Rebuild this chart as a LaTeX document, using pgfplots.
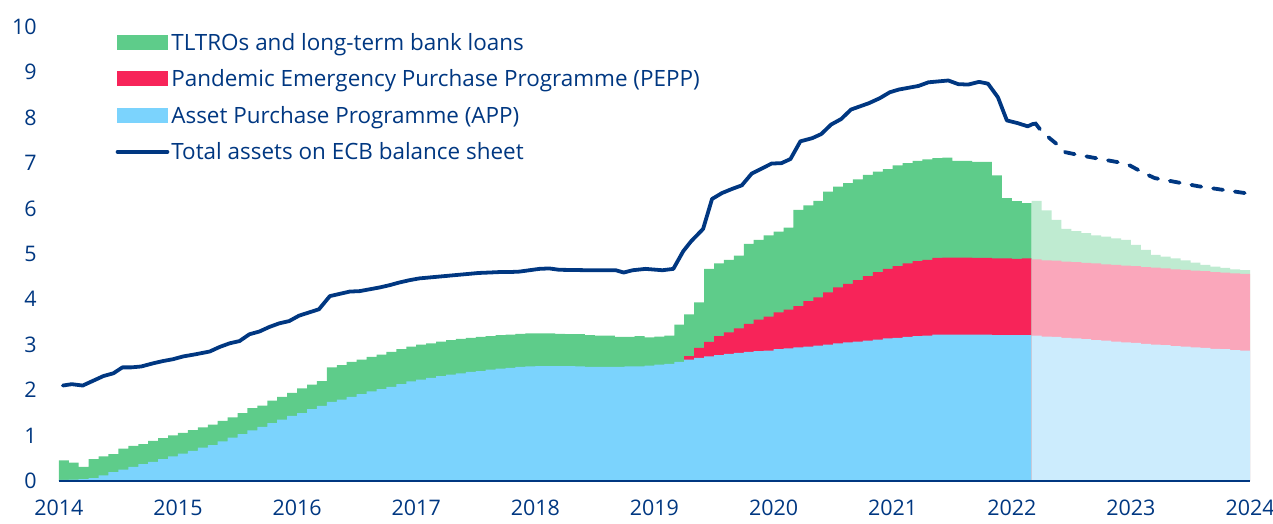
\documentclass[border=0pt]{standalone}
\usepackage{fontspec}
\setmainfont{Open Sans}
\usepackage{pgfplots}
\pgfplotsset{compat=1.18}
\definecolor{navy}{RGB}{0,55,129}
\definecolor{tltro}{RGB}{94,204,138}
\definecolor{pepp}{RGB}{247,36,89}
\definecolor{app}{RGB}{123,211,253}
\definecolor{tltrol}{RGB}{191,235,209}
\definecolor{peppl}{RGB}{250,167,187}
\definecolor{appl}{RGB}{204,236,253}
\newcommand{\tickfont}{\fontsize{21.5}{25}\selectfont}
\newcommand{\legfont}{\fontsize{22.5}{26}\selectfont}
\begin{document}
\begin{tikzpicture}
\begin{axis}[
  scale only axis, width=1194pt, height=455pt,
  xmin=0, xmax=120, ymin=0, ymax=10,
  axis lines*=left,
  y axis line style={draw=none},
  x axis line style={draw=navy, line width=2pt},
  major tick length=0pt,
  xtick={0,12,...,120},
  xticklabels={2014,2015,2016,2017,2018,2019,2020,2021,2022,2023,2024},
  ytick={0,1,...,10},
  tick label style={font=\tickfont, text=navy},
  /pgf/number format/assume math mode=true,
  yticklabel style={anchor=east, inner sep=0pt, xshift=-22pt},
  xticklabel style={anchor=north, inner sep=0pt, yshift=-19pt},
  axis on top,
  clip=false,
  legend cell align=left,
  legend style={at={(rel axis cs:0.0477,0.991)}, anchor=north west,
    draw=none, fill=none, inner sep=0pt, outer sep=0pt,
    row sep=14pt, font=\legfont, text=navy,
    /tikz/every odd column/.append style={column sep=0pt}},
]
% TLTROs (top of stack, historical)
\addplot[fill=tltro, draw=none, const plot,
  legend image code/.code={\fill[tltro] (0pt,-7.5pt) rectangle (52pt,7.5pt);}]
table {
0 0.45
1 0.40
2 0.31
3 0.48
4 0.54
5 0.59
6 0.71
7 0.77
8 0.81
9 0.88
10 0.94
11 1.00
12 1.06
13 1.12
14 1.18
15 1.24
16 1.32
17 1.40
18 1.49
19 1.60
20 1.66
21 1.77
22 1.85
23 1.94
24 2.04
25 2.12
26 2.20
27 2.50
28 2.55
29 2.62
30 2.67
31 2.73
32 2.78
33 2.84
34 2.90
35 2.96
36 3.00
37 3.03
38 3.07
39 3.10
40 3.13
41 3.15
42 3.17
43 3.19
44 3.21
45 3.22
46 3.24
47 3.25
48 3.25
49 3.25
50 3.24
51 3.23
52 3.23
53 3.21
54 3.20
55 3.20
56 3.17
57 3.17
58 3.19
59 3.16
60 3.18
61 3.20
62 3.44
63 3.67
64 3.93
65 4.67
66 4.79
67 4.87
68 4.96
69 5.22
70 5.31
71 5.41
72 5.49
73 5.58
74 5.97
75 6.07
76 6.17
77 6.37
78 6.48
79 6.56
80 6.64
81 6.74
82 6.81
83 6.87
84 6.95
85 7.00
86 7.05
87 7.08
88 7.11
89 7.12
90 7.05
91 7.05
92 7.03
93 7.03
94 6.73
95 6.23
96 6.16
97 6.12
98 6.12
} \closedcycle;
\addlegendentry{TLTROs and long-term bank loans}
% PEPP (APP + PEPP level, historical)
\addplot[fill=pepp, draw=none, const plot,
  legend image code/.code={\fill[pepp] (0pt,-7.5pt) rectangle (52pt,7.5pt);}]
table {
63 2.75
64 2.93
65 3.06
66 3.19
67 3.27
68 3.36
69 3.46
70 3.55
71 3.62
72 3.71
73 3.77
74 3.85
75 3.96
76 4.04
77 4.15
78 4.26
79 4.34
80 4.42
81 4.51
82 4.60
83 4.67
84 4.73
85 4.79
86 4.84
87 4.87
88 4.91
89 4.92
90 4.92
91 4.92
92 4.91
93 4.91
94 4.90
95 4.90
96 4.89
97 4.90
98 4.90
} \closedcycle;
\addlegendentry{Pandemic Emergency Purchase Programme (PEPP)}
% APP (historical)
\addplot[fill=app, draw=none, const plot,
  legend image code/.code={\fill[app] (0pt,-7.5pt) rectangle (52pt,7.5pt);}]
table {
0 0.02
1 0.03
2 0.04
3 0.06
4 0.12
5 0.19
6 0.25
7 0.31
8 0.37
9 0.42
10 0.48
11 0.54
12 0.60
13 0.66
14 0.73
15 0.79
16 0.87
17 0.95
18 1.03
19 1.11
20 1.19
21 1.27
22 1.35
23 1.43
24 1.49
25 1.58
26 1.65
27 1.74
28 1.79
29 1.85
30 1.91
31 1.97
32 2.02
33 2.07
34 2.13
35 2.19
36 2.23
37 2.27
38 2.31
39 2.34
40 2.37
41 2.40
42 2.42
43 2.45
44 2.47
45 2.49
46 2.51
47 2.52
48 2.53
49 2.53
50 2.53
51 2.53
52 2.52
53 2.51
54 2.51
55 2.51
56 2.51
57 2.52
58 2.52
59 2.54
60 2.56
61 2.58
62 2.62
63 2.67
64 2.71
65 2.74
66 2.77
67 2.80
68 2.82
69 2.84
70 2.86
71 2.87
72 2.90
73 2.92
74 2.94
75 2.96
76 2.98
77 3.00
78 3.03
79 3.05
80 3.07
81 3.09
82 3.11
83 3.14
84 3.15
85 3.17
86 3.19
87 3.20
88 3.22
89 3.22
90 3.22
91 3.22
92 3.22
93 3.22
94 3.21
95 3.21
96 3.21
97 3.21
98 3.21
} \closedcycle;
\addlegendentry{Asset Purchase Programme (APP)}
% Projections
\addplot[fill=tltrol, draw=none, const plot, forget plot]
table {
98 6.17
99 5.96
100 5.75
101 5.55
102 5.50
103 5.46
104 5.41
105 5.38
106 5.34
107 5.31
108 5.20
109 5.09
110 4.98
111 4.94
112 4.90
113 4.86
114 4.81
115 4.76
116 4.72
117 4.69
118 4.66
119 4.64
120 4.64
} \closedcycle;
\addplot[fill=peppl, draw=none, const plot, forget plot]
table {
98 4.88
99 4.86
100 4.85
101 4.83
102 4.82
103 4.80
104 4.79
105 4.77
106 4.76
107 4.74
108 4.73
109 4.71
110 4.70
111 4.68
112 4.66
113 4.65
114 4.63
115 4.62
116 4.60
117 4.59
118 4.57
119 4.56
120 4.56
} \closedcycle;
\addplot[fill=appl, draw=none, const plot, forget plot]
table {
98 3.20
99 3.18
100 3.17
101 3.15
102 3.14
103 3.12
104 3.10
105 3.09
106 3.07
107 3.05
108 3.04
109 3.02
110 3.00
111 2.99
112 2.97
113 2.96
114 2.94
115 2.93
116 2.91
117 2.90
118 2.88
119 2.87
120 2.87
} \closedcycle;
% Total assets (historical)
\addplot[navy, line width=3.8pt, line join=round, line cap=round,
  legend image code/.code={\draw[navy, line width=3.8pt, line cap=round] (1pt,0pt) -- (51pt,0pt);}]
table {
0.4 2.10
1.3 2.13
2.4 2.10
3.4 2.20
4.5 2.31
5.5 2.37
6.4 2.50
7.3 2.50
8.3 2.52
9.5 2.59
10.5 2.64
11.5 2.68
12.5 2.74
13.8 2.79
15.2 2.85
16.2 2.95
17.2 3.03
18.2 3.08
19.2 3.23
20.2 3.29
21.2 3.39
22.2 3.47
23.2 3.52
24.2 3.64
25.2 3.71
26.2 3.78
27.3 4.07
28.3 4.12
29.3 4.17
30.3 4.18
31.3 4.22
32.3 4.26
33.3 4.31
34.3 4.37
35.3 4.42
36.3 4.46
37.3 4.48
38.3 4.50
39.3 4.52
40.3 4.54
41.3 4.56
42.3 4.58
43.4 4.59
44.4 4.60
45.4 4.60
46.4 4.61
47.4 4.64
48.4 4.67
49.4 4.68
50.4 4.65
53.4 4.64
56.1 4.64
56.9 4.59
57.8 4.64
59.1 4.67
60.8 4.64
61.9 4.67
62.9 5.06
63.7 5.28
64.9 5.55
65.8 6.21
66.8 6.34
67.8 6.43
68.8 6.51
69.8 6.77
71.8 6.99
72.8 7.00
73.7 7.09
74.7 7.48
75.9 7.55
76.8 7.64
77.8 7.85
78.8 7.97
79.8 8.18
81.6 8.32
82.7 8.43
83.7 8.56
84.6 8.62
86.6 8.70
87.6 8.78
89.6 8.82
90.6 8.74
91.6 8.73
92.7 8.79
93.6 8.75
94.6 8.45
95.5 7.94
96.6 7.88
97.6 7.81
98.1 7.86
};
\addlegendentry{Total assets on ECB balance sheet}
% Total assets (projection)
\addplot[navy, line width=3.8pt, line cap=round, dash pattern=on 10pt off 12pt, forget plot]
table {
98.1 7.86
98.4 7.87
99.0 7.70
99.8 7.55
100.8 7.37
101.4 7.24
102.7 7.18
106.7 7.02
107.7 6.97
109.4 6.77
110.4 6.67
114.8 6.49
119.8 6.33
};
\end{axis}
\pgfresetboundingbox
\path (-59pt,-43pt) rectangle (1217pt,482pt);
\end{tikzpicture}
\end{document}
